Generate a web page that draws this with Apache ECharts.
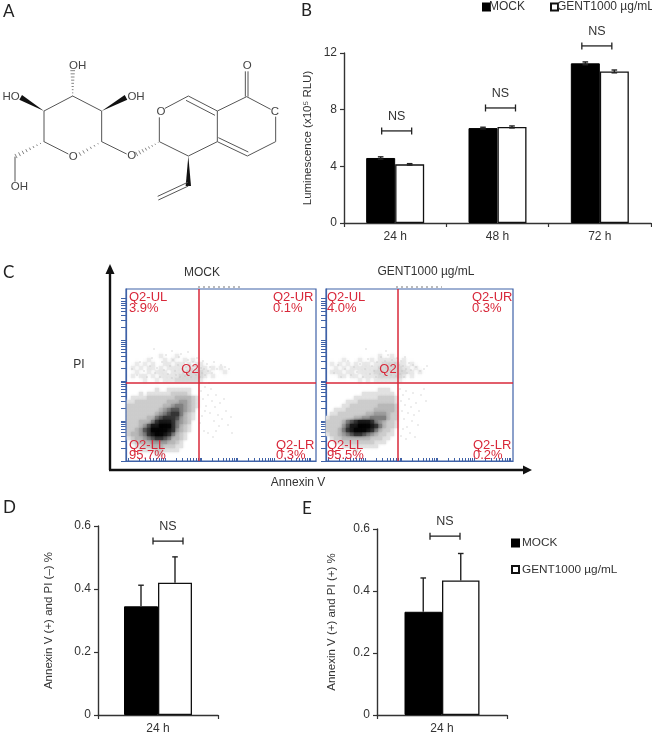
<!DOCTYPE html>
<html><head><meta charset="utf-8">
<style>html,body{margin:0;padding:0;background:#fff}#c{width:652px;height:735px}</style>
<script src="https://cdn.jsdelivr.net/npm/echarts@6/dist/echarts.min.js"></script>
</head><body><div id="c"></div>
<script>
// ---------- data ----------
const seriesNames = ['MOCK', 'GENT1000 µg/mL'];
const hours = ['24 h', '48 h', '72 h'];
const lumMock = [4.59, 6.7, 11.27];
const lumMockErr = [0.08, 0.06, 0.1];
const lumGent = [4.14, 6.78, 10.7];
const lumGentErr = [0.05, 0.07, 0.1];
const lumTicks = {min: 0, max: 12, interval: 4};
const lumNS = [6.5, 8.12, 12.5];

const earlyCat = ['24 h'];
const earlyMock = [0.345]; const earlyMockErr = [0.067];
const earlyGent = [0.42];  const earlyGentErr = [0.082];
const earlyNS = [0.552];
const lateMock = [0.333]; const lateMockErr = [0.109];
const lateGent = [0.434]; const lateGentErr = [0.087];
const lateNS = [0.577];

// flow cytometry: density, in 4-channel cells, 0 = empty, 9 = darkest
const densityMock = [
 '000000000000000000','000000010011111100','000101111112222100','011112222222333321',
 '112222222233344321','222222222334554321','222222223456654320','222222234567753210',
 '222223356777643210','222333578887543200','222346889997532100','223467999987432100',
 '233457899875321000','123345677653321000','012333444433210000','001122333222110000',
 '000111122111100000','000000011000000000'];
const densityGent = [
 '000000000000000000','000000000000011100','000000000111111110','000000011111122221',
 '000001112222222221','000011222222233332','001112222222333332','011222222233444322',
 '122222233445555322','222235678887543221','222246889998753221','222357899987532210',
 '122345677654322110','012233333332221100','001122222222111000','000011111111100000',
 '000000010000000000'];
const upperMock = [
 '00000000100010000000000000','00000100010100101000000000','00101010011011010110000000',
 '01010110101111111111010100','00100101110111122221100010','01011010111112222221010000',
 '00001001011122222210000000'];
const upperGent = [
 '00000000000001001000000000','00001000100101111101000000','01010101011011222211010000',
 '00101011111112222221101000','01110110111122222222110100','00011011011112222221010000',
 '00000000101011111110000000'];
// single events outside the dense cloud, [Annexin V channel, PI channel]
const strayMock = [[6,92],[11,86],[14,99],[18,90],[21,84],[24,95],[26,103],[29,88],[31,93],[34,84],[36,99],[38,91],[40,106],[42,87],[44,95],[46,83],[47,101],[49,90],[50,86],[52,96],[53,104],[54,84],[56,92],[57,88],[58,98],[59,85],[60,94],[61,90],[62,101],[63,87],[64,96],[65,84],[66,92],[67,99],[68,88],[69,95],[70,86],[71,103],[72,91],[73,97],[74,84],[75,93],[76,88],[77,100],[78,92],[79,86],[81,97],[82,90],[84,94],[86,88],[88,99],[91,92],[95,96],[99,94],[103,92],[28,112],[46,110],[62,109],[55,107],
 [75,70],[77,62],[79,74],[80,55],[82,66],[84,48],[85,72],[86,60],[88,40],[89,54],[90,66],[92,46],[93,35],[94,58],[96,42],[98,62],[100,50],[102,36],[78,30],[82,28],[87,24],[76,45],[74,38],[79,50],[105,44],[83,78],[106,28],[90,30]];
const strayGent = [[8,88],[12,96],[15,84],[19,92],[22,100],[25,86],[28,94],[31,89],[34,97],[37,84],[39,92],[42,102],[44,87],[46,95],[48,90],[50,84],[51,99],[53,93],[54,87],[55,104],[56,96],[57,90],[58,85],[59,100],[60,93],[61,88],[62,106],[63,97],[64,91],[65,86],[66,101],[67,94],[68,89],[69,98],[70,85],[71,103],[72,92],[73,96],[74,87],[75,100],[76,90],[77,95],[78,84],[79,104],[80,92],[81,88],[83,98],[85,91],[87,96],[90,94],[94,90],[98,92],[101,95],[40,112],[60,110],
 [74,72],[75,60],[76,50],[77,66],[78,42],[79,56],[80,70],[81,34],[82,48],[83,62],[84,28],[85,54],[86,40],[87,68],[88,46],[89,24],[90,58],[92,36],[93,50],[77,32],[75,25],[80,22],[95,66],[98,72],[100,60]];
const gateMock = {x: 73, y: 78};
const gateGent = {x: 72, y: 78};
const quadMock = {ul: '3.9%', ur: '0.1%', ll: '95.7%', lr: '0.3%'};
const quadGent = {ul: '4.0%', ur: '0.3%', ll: '95.5%', lr: '0.2%'};
// log-decade positions on the channel scale
const decadesX = [2, 39, 75, 111, 148, 184];
const decadesY = [0, 40, 80, 121, 163];

// ---------- helpers ----------
const FONT = '"Liberation Sans", Arial, sans-serif';
const INK = '#333';
const BLUE = '#3f62a8';
const RED = '#d8283a';
const GRAYS = ['#fff','#e2e2e2','#cdcdcd','#b8b8b8','#9e9e9e','#808080','#5a5a5a','#363636','#1a1a1a','#050505'];

const logTicks = (decades, pxPerDecade, limit) => {
  const out = [];
  decades.forEach(d => { for (let k = 1; k <= 9; k++) { const v = d + Math.log10(k) * pxPerDecade; if (v <= limit) out.push(v); } });
  return out;
};
const cells = (rows, x0, yTop, alpha) => {
  const out = [];
  rows.forEach((row, r) => row.split('').forEach((ch, i) => {
    if (ch !== '0') out.push({value: [x0 + 4 * i, yTop - 4 * r, +ch],
      itemStyle: {color: GRAYS[+ch], shadowColor: GRAYS[+ch], shadowBlur: 3, opacity: alpha}});
  }));
  return out.sort((a, b) => a.value[2] - b.value[2]);
};

function errorSeries(grid, means, errs, side, halfBar, both) {
  return {
    type: 'custom', xAxisIndex: grid, yAxisIndex: grid, clip: false, z: 5, silent: true,
    data: means.map((m, i) => [i, m, errs[i]]),
    renderItem(p, api) {
      const i = api.value(0), m = api.value(1), e = api.value(2);
      const top = api.coord([i, m + e]), low = api.coord([i, both ? m - e : m]);
      const x = top[0] + side * halfBar;
      const st = {stroke: '#222', lineWidth: 1.4, fill: null};
      const kids = [
        {type: 'line', shape: {x1: x, y1: top[1], x2: x, y2: low[1]}, style: st},
        {type: 'line', shape: {x1: x - 2.8, y1: top[1], x2: x + 2.8, y2: top[1]}, style: st}
      ];
      if (both) kids.push({type: 'line', shape: {x1: x - 2.8, y1: low[1], x2: x + 2.8, y2: low[1]}, style: st});
      return {type: 'group', children: kids};
    }
  };
}
function nsSeries(grid, levels, shifts, textGap) {
  return {
    type: 'custom', xAxisIndex: grid, yAxisIndex: grid, clip: false, z: 6, silent: true,
    data: levels.map((v, i) => [i, v]),
    renderItem(p, api) {
      const c = api.coord([api.value(0), api.value(1)]);
      const x = c[0] + shifts[api.value(0)], y = c[1];
      const st = {stroke: '#222', lineWidth: 1.3, fill: null};
      return {type: 'group', children: [
        {type: 'line', shape: {x1: x - 15, y1: y, x2: x + 15, y2: y}, style: st},
        {type: 'line', shape: {x1: x - 15, y1: y - 3.5, x2: x - 15, y2: y + 3.5}, style: st},
        {type: 'line', shape: {x1: x + 15, y1: y - 3.5, x2: x + 15, y2: y + 3.5}, style: st},
        {type: 'text', style: {text: 'NS', x: x, y: y - textGap, fill: INK, font: '12.5px ' + FONT, textAlign: 'center', textVerticalAlign: 'middle'}}
      ]};
    }
  };
}
function barSeries(grid, idx, values, w) {
  return {
    type: 'bar', name: seriesNames[idx], xAxisIndex: grid, yAxisIndex: grid, data: values,
    barWidth: w, barGap: 0,
    itemStyle: idx === 0 ? {color: '#000', borderColor: '#000', borderWidth: 1}
                         : {color: '#fff', borderColor: '#111', borderWidth: 1.3}
  };
}
const catAxis = (grid, cats) => ({
  type: 'category', gridIndex: grid, data: cats,
  axisLine: {lineStyle: {color: INK, width: 1.4}},
  axisTick: {show: true, length: 4, lineStyle: {color: INK, width: 1.2}},
  axisLabel: {color: INK, fontFamily: FONT, fontSize: 12, margin: 8}
});
const valAxis = (grid, t, name, gap, labelFn) => ({
  type: 'value', gridIndex: grid, min: t.min, max: t.max, interval: t.interval,
  name, nameLocation: 'middle', nameGap: gap, nameRotate: 90,
  nameTextStyle: {color: INK, fontFamily: FONT, fontSize: 11.5},
  splitLine: {show: false},
  axisLine: {show: true, lineStyle: {color: INK, width: 1.4}},
  axisTick: {show: true, length: 4, lineStyle: {color: INK, width: 1.2}},
  axisLabel: {color: INK, fontFamily: FONT, fontSize: 12, margin: 7, formatter: labelFn}
});
function flowAxes(grid, xMax) {
  const common = {type: 'value', gridIndex: grid, min: 0, splitLine: {show: false}, axisLabel: {show: false},
    axisLine: {show: true, onZero: false, lineStyle: {color: BLUE, width: 1.2}}};
  return {
    x: Object.assign({}, common, {max: xMax,
      axisTick: {show: true, inside: true, length: 3, lineStyle: {color: BLUE, width: 1}, customValues: logTicks(decadesX, 36.5, xMax)}}),
    y: Object.assign({}, common, {max: 172,
      axisTick: {show: true, length: 5, lineStyle: {color: BLUE, width: 1}, customValues: logTicks(decadesY, 41, 172)}})
  };
}
function flowSeries(grid, rows, upper, stray, x0, gate) {
  const gateStyle = {color: RED, width: 1.5, type: 'solid', opacity: 1};
  return [
    {type: 'scatter', xAxisIndex: grid, yAxisIndex: grid, silent: true, symbol: 'rect', symbolSize: 4.2, z: 2,
     data: cells(upper, x0, 105, 0.55)},
    {type: 'scatter', xAxisIndex: grid, yAxisIndex: grid, silent: true, symbol: 'rect', symbolSize: 4.2, z: 3,
     data: cells(rows, x0, 75, 1)},
    {type: 'scatter', xAxisIndex: grid, yAxisIndex: grid, silent: true, symbol: 'rect', symbolSize: 1.1, z: 4,
     data: stray, itemStyle: {color: '#bdbdbd', opacity: 1},
     markLine: {silent: true, symbol: 'none', label: {show: false}, z: 8, lineStyle: gateStyle,
       data: [{xAxis: gate.x, lineStyle: gateStyle}, {yAxis: gate.y, lineStyle: gateStyle}]}}
  ];
}

// ---------- non-data artwork: panel letters, arrows, labels, molecule ----------
const G = [];
const text = (t, x, y, o) => G.push({type: 'text', silent: true, z: 20, style: Object.assign(
  {text: t, x, y, fill: INK, font: '12px ' + FONT, textVerticalAlign: 'middle'}, o || {})});
const letter = (t, x, y) => text(t, x, y, {font: '17px Lato, ' + FONT, fill: '#222'});
letter('A', 3, 12); letter('B', 301, 11); letter('C', 3, 273); letter('D', 3, 508); letter('E', 302, 509);

text('MOCK', 202, 273, {textAlign: 'center'});
text('GENT1000 µg/mL', 426, 272, {textAlign: 'center'});
text('PI', 79, 365, {textAlign: 'center'});
text('Annexin V', 298, 483, {textAlign: 'center'});
G.push({type: 'line', silent: true, shape: {x1: 110, y1: 270, x2: 110, y2: 470}, style: {stroke: '#111', lineWidth: 2.4}});
G.push({type: 'line', silent: true, shape: {x1: 109, y1: 470, x2: 526, y2: 470}, style: {stroke: '#111', lineWidth: 2.4}});
G.push({type: 'polygon', silent: true, shape: {points: [[110, 264], [105.5, 274], [114.5, 274]]}, style: {fill: '#111'}});
G.push({type: 'polygon', silent: true, shape: {points: [[532, 470], [523, 465.5], [523, 474.5]]}, style: {fill: '#111'}});
[[198, 243], [396, 442]].forEach(([a, b]) => G.push({type: 'line', silent: true, shape: {x1: a, y1: 287, x2: b, y2: 287}, style: {stroke: '#777', lineWidth: 1, lineDash: [2, 3]}}));

function quadLabels(q, x0, urX, lrX, q2X) {
  const s = {fill: RED, font: '13px ' + FONT};
  text('Q2-UL', x0, 297, s); text(q.ul, x0, 308, s);
  text('Q2-UR', urX, 297, s); text(q.ur, urX, 308, s);
  text('Q2-LL', x0, 445, s); text(q.ll, x0, 455, s);
  text('Q2-LR', lrX, 445, s); text(q.lr, lrX, 455, s);
  text('Q2', q2X, 369, Object.assign({textAlign: 'center'}, s));
}
quadLabels(quadMock, 129, 273, 276, 190);
quadLabels(quadGent, 327, 472, 473, 388);

// molecule, drawn in 3x units and scaled down
const M = v => v / 3;
const bond = (a, b, w) => G.push({type: 'line', silent: true, shape: {x1: M(a[0]), y1: M(a[1]), x2: M(b[0]), y2: M(b[1])}, style: {stroke: '#555', lineWidth: w || 1}});
const dbl = (a, b, ox, oy) => { bond(a, b); bond([a[0] + ox, a[1] + oy], [b[0] + ox, b[1] + oy]); };
const wedge = (a, b, hw) => {
  const dx = b[0] - a[0], dy = b[1] - a[1], l = Math.hypot(dx, dy), nx = -dy / l * hw, ny = dx / l * hw;
  G.push({type: 'polygon', silent: true, shape: {points: [[M(a[0]), M(a[1])], [M(b[0] + nx), M(b[1] + ny)], [M(b[0] - nx), M(b[1] - ny)]]}, style: {fill: '#111'}});
};
const hash = (a, b, hw, n) => {
  const dx = b[0] - a[0], dy = b[1] - a[1], l = Math.hypot(dx, dy), nx = -dy / l, ny = dx / l;
  for (let i = 0; i <= n; i++) {
    const t = i / n, h = 1 + (hw - 1) * t, x = a[0] + dx * t, y = a[1] + dy * t;
    G.push({type: 'line', silent: true, shape: {x1: M(x + nx * h), y1: M(y + ny * h), x2: M(x - nx * h), y2: M(y - ny * h)}, style: {stroke: '#666', lineWidth: 0.8}});
  }
};
bond([205,462],[132,425]); bond([132,425],[132,333]); bond([132,333],[218,288]); bond([218,288],[305,333]); bond([305,333],[305,425]);
hash([218,288],[218,212],7,8); wedge([132,333],[62,292],8); wedge([305,333],[378,292],8);
hash([132,425],[48,468],7,8); bond([45,470],[45,545]);
bond([305,425],[380,462]); hash([475,428],[410,462],7,7);
hash([305,425],[240,462],6,6);
bond([478,425],[478,352]); bond([495,325],[565,288]); dbl([565,288],[652,333],-7,13);
bond([652,333],[740,290]); dbl([736,290],[736,214],8,0); bond([740,290],[812,328]);
bond([827,350],[827,425]); bond([827,425],[742,468]); dbl([742,468],[652,425],3,-12);
bond([652,425],[652,333]); bond([652,425],[565,468]); bond([565,468],[478,425]);
wedge([565,468],[565,558],8); dbl([565,558],[475,600],-2,-11);
const atom = (t, x, y) => text(t, M(x), M(y), {textAlign: 'center', font: '11.5px ' + FONT, fill: '#444'});
atom('OH',233,198); atom('HO',33,290); atom('OH',408,290); atom('OH',58,560);
atom('O',220,470); atom('O',395,468); atom('O',483,335); atom('O',742,198); atom('C',825,335);

// ---------- chart ----------
const fx0 = flowAxes(1, 190), fx1 = flowAxes(2, 187);
const option = {
  animation: false,
  textStyle: {fontFamily: FONT},
  grid: [
    {left: 344, top: 53, width: 307, height: 170},
    {left: 126, top: 289, width: 190, height: 172, show: true, borderColor: BLUE, borderWidth: 1.2, backgroundColor: '#fff'},
    {left: 326, top: 289, width: 187, height: 172, show: true, borderColor: BLUE, borderWidth: 1.2, backgroundColor: '#fff'},
    {left: 98, top: 526, width: 120, height: 189},
    {left: 377, top: 529, width: 130, height: 186}
  ],
  xAxis: [catAxis(0, hours), fx0.x, fx1.x, catAxis(3, earlyCat), catAxis(4, earlyCat)],
  yAxis: [
    valAxis(0, lumTicks, 'Luminescence (x10⁵ RLU)', 30),
    fx0.y, fx1.y,
    valAxis(3, {min: 0, max: 0.6, interval: 0.2}, 'Annexin V (+) and PI (–) %', 43, v => v === 0 ? '0' : v.toFixed(1)),
    valAxis(4, {min: 0, max: 0.6, interval: 0.2}, 'Annexin V (+) and PI (+) %', 39, v => v === 0 ? '0' : v.toFixed(1))
  ],
  legend: [
    {orient: 'horizontal', left: 482, top: 1, width: 300, padding: 0, itemWidth: 7, itemHeight: 7, itemGap: 25, selectedMode: false, icon: 'rect',
     textStyle: {color: INK, fontFamily: FONT, fontSize: 12, padding: [0, 0, 0, -6]}, data: seriesNames},
    {orient: 'vertical', left: 506, top: 532, itemWidth: 7, itemHeight: 7, itemGap: 14.5, selectedMode: false, icon: 'rect',
     textStyle: {color: INK, fontFamily: FONT, fontSize: 11.8, padding: [0, 0, 0, -2]}, data: seriesNames}
  ],
  series: [
    barSeries(0, 0, lumMock, 29), barSeries(0, 1, lumGent, 29),
    errorSeries(0, lumMock, lumMockErr, -1, 14.5, true), errorSeries(0, lumGent, lumGentErr, 1, 14.5, true),
    nsSeries(0, lumNS, [1.5, 3, -3], 14),
    ...flowSeries(1, densityMock, upperMock, strayMock, 3, gateMock),
    ...flowSeries(2, densityGent, upperGent, strayGent, 2, gateGent),
    barSeries(3, 0, earlyMock, 34), barSeries(3, 1, earlyGent, 34),
    errorSeries(3, earlyMock, earlyMockErr, -1, 17, false), errorSeries(3, earlyGent, earlyGentErr, 1, 17, false),
    nsSeries(3, earlyNS, [10], 15),
    barSeries(4, 0, lateMock, 37.5), barSeries(4, 1, lateGent, 37.5),
    errorSeries(4, lateMock, lateMockErr, -1, 18.75, false), errorSeries(4, lateGent, lateGentErr, 1, 18.75, false),
    nsSeries(4, lateNS, [3], 15)
  ],
  graphic: G
};
echarts.init(document.getElementById('c'), null, {renderer: 'canvas'}).setOption(option);
</script></body></html>
